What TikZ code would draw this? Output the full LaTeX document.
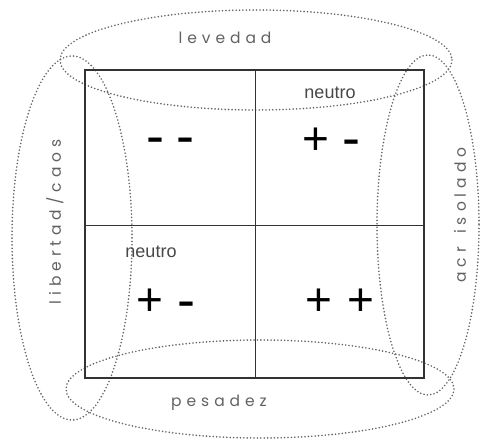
\documentclass[tikz,border=0pt]{standalone}
\usepackage{fontspec}
\setmainfont{Liberation Sans}
\newfontfamily\labfont[LetterSpace=32]{Poppins}
\begin{document}
\begin{tikzpicture}[x=1pt,y=-1pt,
  dots/.style={draw=black!60, line width=1.8pt, line cap=round, dash pattern=on 0pt off 3.4pt},
  frame/.style={draw=black!80, line width=1.1pt},
  lab/.style={text=black!62, font=\labfont\fontsize{15.5}{15.5}\selectfont, inner sep=0pt},
  neu/.style={text=black!72, font=\fontsize{18}{18}\selectfont, inner sep=0pt},
  sign/.style={text=black, font=\fontsize{46}{46}\selectfont, inner sep=0pt},
  minus/.style={text=black, font=\fontsize{54}{54}\selectfont, inner sep=0pt}]
\useasboundingbox (0,0) rectangle (484,441);
% dotted surrounding ellipses
\draw[dots] (256,60) ellipse [x radius=196, y radius=50];
\draw[dots] (260,389) ellipse [x radius=194, y radius=49];
\draw[dots] (72,238) ellipse [x radius=60, y radius=182];
\draw[dots] (428,225) ellipse [x radius=51, y radius=170];
% square with quadrants
\node[frame, minimum width=339pt, minimum height=308pt, inner sep=0pt] (sq) at (254.5,224) {};
\coordinate (tm) at (255,70);
\coordinate (bm) at (255,378);
\coordinate (lm) at (85,225);
\coordinate (rm) at (424,225);
\draw[frame, line width=0.9pt] (tm) -- (bm);
\draw[frame, line width=0.9pt] (lm) -- (rm);
% labels
\node[lab] (lev) at (225,38) {levedad};
\node[lab] (pes) at (219,403) {pesadez};
\node[lab, rotate=90] (lib) at (55,222) {libertad/caos};
\node[lab, rotate=90] (acr) at (460,215) {acr\hspace{4pt} isolado};
\node[neu] (n1) at (330,93) {neutro};
\node[neu] (n2) at (151,252) {neutro};
% signs
\node[minus] (s1) at (155,146) {-};
\node[minus] (s2) at (185,146) {-};
\node[sign] (s3) at (316,141) {+};
\node[minus] (s4) at (351,148) {-};
\node[sign] (s5) at (150,302) {+};
\node[minus] (s6) at (186,310) {-};
\node[sign] (s7) at (319,302) {+};
\node[sign] (s8) at (361,302) {+};
\end{tikzpicture}
\end{document}
